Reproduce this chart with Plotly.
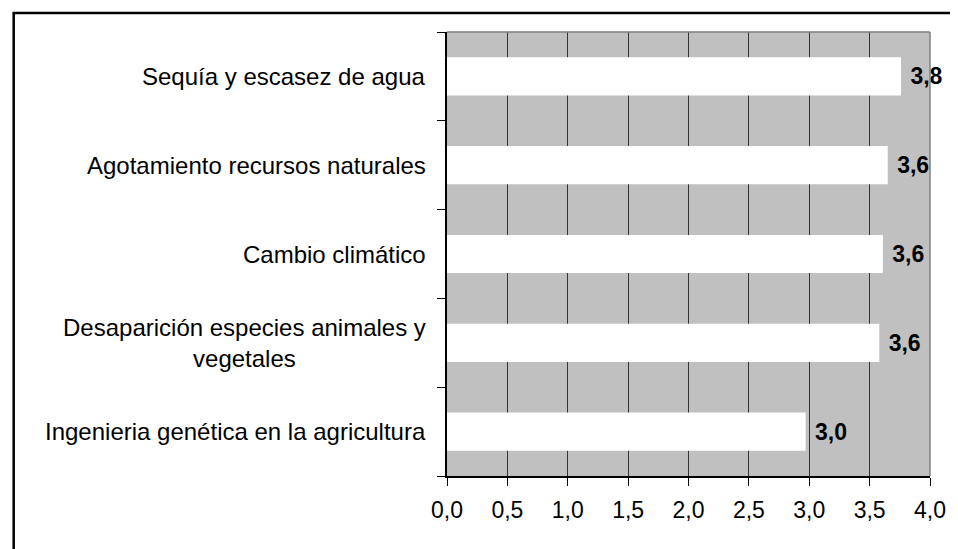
import plotly.graph_objects as go

categories = [
    "Sequía y escasez de agua",
    "Agotamiento recursos naturales",
    "Cambio climático",
    "Desaparición especies animales y<br>vegetales",
    "Ingenieria genética en la agricultura",
]
values = [3.76, 3.65, 3.61, 3.58, 2.97]
x_ticks = [0, 0.5, 1.0, 1.5, 2.0, 2.5, 3.0, 3.5, 4.0]

FONT = "Liberation Sans, Arial, sans-serif"
cat_ids = list(range(len(categories)))

# page body has an 8px default margin; figure sized to fill the rest
W, H = 950, 541
L, R, T, B = 439, 25, 24, 73
PW, PH = W - L - R, H - T - B

fig = go.Figure()
fig.add_trace(go.Bar(
    y=cat_ids,
    x=values,
    orientation="h",
    width=0.43,
    marker=dict(color="white", line=dict(width=0)),
    texttemplate=" %{x:.1f}",
    textposition="outside",
    textfont=dict(family=FONT, size=23, color="black", weight="bold"),
    cliponaxis=False,
    showlegend=False,
))

annotations = []
for i, c in enumerate(categories):
    annotations.append(dict(
        xref="paper", yref="y", x=0, y=i,
        text=c, showarrow=False, xanchor="right", yanchor="middle",
        align="center", xshift=-19,
        font=dict(family=FONT, size=24, color="black"),
    ))

fig.update_layout(
    width=W, height=H,
    margin=dict(l=L, r=R, t=T, b=B),
    paper_bgcolor="white",
    plot_bgcolor="#C0C0C0",
    separators=",.",
    annotations=annotations,
    xaxis=dict(
        range=[0, 4.0], tickvals=x_ticks, tickformat=".1f",
        showgrid=True, gridcolor="#333333", gridwidth=1,
        showline=True, linecolor="black", linewidth=1.5,
        ticks="outside", ticklen=8, tickcolor="black", tickwidth=1,
        ticklabelstandoff=5,
        tickfont=dict(family=FONT, size=23, color="black"),
        zeroline=False, fixedrange=True,
    ),
    yaxis=dict(
        type="linear", range=[len(categories) - 0.5, -0.5],
        tickvals=[i - 0.5 for i in range(len(categories) + 1)],
        showticklabels=False,
        showgrid=False,
        showline=True, linecolor="black", linewidth=1.5,
        ticks="outside", ticklen=8, tickcolor="black", tickwidth=1,
        zeroline=False, fixedrange=True,
    ),
    shapes=[
        dict(type="line", xref="paper", yref="paper", x0=0, x1=1, y0=1, y1=1,
             line=dict(color="#808080", width=1.5)),
        dict(type="line", xref="paper", yref="paper", x0=1, x1=1, y0=0, y1=1,
             line=dict(color="#808080", width=1.5)),
        dict(type="rect", xref="paper", yref="paper",
             x0=(3 - L) / PW, x1=(W + 20 - L) / PW,
             y0=(T + PH - (H + 20)) / PH, y1=(T + PH - 5) / PH,
             line=dict(color="black", width=2.5)),
    ],
)

fig.write_html("out.html")
